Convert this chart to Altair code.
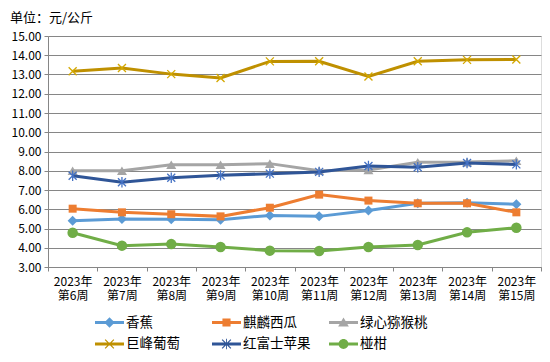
import altair as alt
import pandas as pd

weeks = ["2023年\n第6周", "2023年\n第7周", "2023年\n第8周", "2023年\n第9周", "2023年\n第10周",
         "2023年\n第11周", "2023年\n第12周", "2023年\n第13周", "2023年\n第14周", "2023年\n第15周"]
series_names = ["香蕉", "麒麟西瓜", "绿心猕猴桃", "巨峰葡萄", "红富士苹果", "椪柑"]
banana = [5.40, 5.49, 5.48, 5.46, 5.68, 5.63, 5.94, 6.31, 6.34, 6.26]
watermelon = [6.03, 5.84, 5.74, 5.63, 6.08, 6.76, 6.45, 6.31, 6.31, 5.84]
kiwi = [8.00, 8.00, 8.31, 8.31, 8.37, 8.00, 8.04, 8.44, 8.45, 8.52]
grape = [13.17, 13.34, 13.02, 12.82, 13.68, 13.69, 12.90, 13.69, 13.76, 13.78]
apple = [7.74, 7.40, 7.64, 7.76, 7.85, 7.94, 8.25, 8.18, 8.40, 8.33]
citrus = [4.78, 4.11, 4.19, 4.04, 3.85, 3.83, 4.04, 4.14, 4.80, 5.04]
y_ticks = [3, 4, 5, 6, 7, 8, 9, 10, 11, 12, 13, 14, 15]

values = [banana, watermelon, kiwi, grape, apple, citrus]
rows = []
for name, vals in zip(series_names, values):
    for w, v in zip(weeks, vals):
        rows.append({"week": w, "series": name, "value": v})
df = pd.DataFrame(rows)

line_colors = ["#5B9BD5", "#ED7D31", "#A5A5A5", "#BF9000", "#2F5597", "#70AD47"]
FONT = "Noto Sans CJK SC"

# legend symbols: line segment + marker (normalized path coordinates)
LINE = "M-1,-0.1H1V0.1H-1Z"
t = 0.03
XBARS = (f"M{-0.3+t},{-0.3-t}L{0.3+t},{0.3-t}L{0.3-t},{0.3+t}L{-0.3-t},{-0.3+t}Z"
         f"M{0.3+t},{-0.3+t}L{-0.3+t},{0.3+t}L{-0.3-t},{0.3-t}L{0.3-t},{-0.3-t}Z")
legend_shapes = [
    LINE + "M0,-0.36L0.36,0L0,0.36L-0.36,0Z",
    LINE + "M-0.28,-0.28H0.28V0.28H-0.28Z",
    LINE + "M0,-0.34L0.37,0.28L-0.37,0.28Z",
    LINE + XBARS,
    LINE + XBARS + f"M{-t},-0.36H{t}V0.36H{-t}Z",
    LINE + "M-0.34,0A0.34,0.34 0 1,1 0.34,0A0.34,0.34 0 1,1 -0.34,0Z",
]

x_enc = alt.X("week:N", sort=weeks,
              scale=alt.Scale(type="band", paddingInner=0, paddingOuter=0),
              axis=alt.Axis(title=None, labelAngle=0, tickBand="extent", ticks=True, tickSize=4,
                            labelExpr="split(datum.label, '\\n')", labelFontSize=12,
                            labelLineHeight=14.5, labelFont=FONT, labelColor="#000000",
                            labelPadding=5, domainColor="#868686", tickColor="#868686",
                            grid=False))
y_enc = alt.Y("value:Q", scale=alt.Scale(domain=[3, 15], nice=False, zero=False),
              axis=alt.Axis(title=None, values=y_ticks, format=".2f", labelFontSize=12,
                            labelFont=FONT, labelColor="#000000", grid=True,
                            gridColor="#868686", domainColor="#868686", tickColor="#868686",
                            tickSize=4, labelPadding=3))

leg = alt.Legend(orient="none", legendX=47, legendY=272, direction="horizontal", columns=3,
                 gridAlign="all", columnPadding=18, rowPadding=0.5, symbolSize=841,
                 symbolStrokeWidth=0, symbolOpacity=1, labelFontSize=13.5, labelFont=FONT,
                 labelColor="#000000", labelOffset=2, title=None)

legend_layer = alt.Chart(df).mark_point(filled=True, size=0).encode(
    x=x_enc, y=y_enc,
    color=alt.Color("series:N", scale=alt.Scale(domain=series_names, range=line_colors), legend=leg),
    shape=alt.Shape("series:N", scale=alt.Scale(domain=series_names, range=legend_shapes), legend=leg),
)

marker_specs = [
    ("香蕉", dict(shape="diamond", size=100, filled=True, color="#5B9BD5")),
    ("麒麟西瓜", dict(shape="square", size=64, filled=True, color="#ED7D31")),
    ("绿心猕猴桃", dict(shape="triangle-up", size=100, filled=True, color="#A5A5A5")),
    ("巨峰葡萄", dict(shape="M-1,-1L1,1M1,-1L-1,1", size=64, filled=False, color="#D4A800", strokeWidth=1.3)),
    ("红富士苹果", dict(shape="M-1,-1L1,1M1,-1L-1,1M0,-1.3L0,1.3", size=64, filled=False, color="#4472C4", strokeWidth=1.3)),
    ("椪柑", dict(shape="circle", size=110, filled=True, color="#70AD47")),
]
series_layers = []
for (name, props), lc in zip(marker_specs, line_colors):
    base = alt.Chart(df).transform_filter(alt.datum.series == name)
    series_layers.append(base.mark_line(strokeWidth=3, color=lc).encode(x=x_enc, y=y_enc))
    series_layers.append(base.mark_point(opacity=1, **props).encode(x=x_enc, y=y_enc))

chart = alt.layer(legend_layer, *series_layers).properties(
    width=493, height=231,
    autosize=alt.AutoSizeParams(type="none"),
    padding={"left": 40, "top": 28, "right": 1, "bottom": 87},
    title=alt.TitleParams("单位：元/公斤", anchor="start", frame="group", dx=-38, dy=-1, fontSize=13,
                          font=FONT, fontWeight="normal", color="#000000", offset=4),
).configure_view(stroke=None).configure(background="#FFFFFF")

chart.save("out.html", embed_options={"renderer": "svg", "actions": False})
